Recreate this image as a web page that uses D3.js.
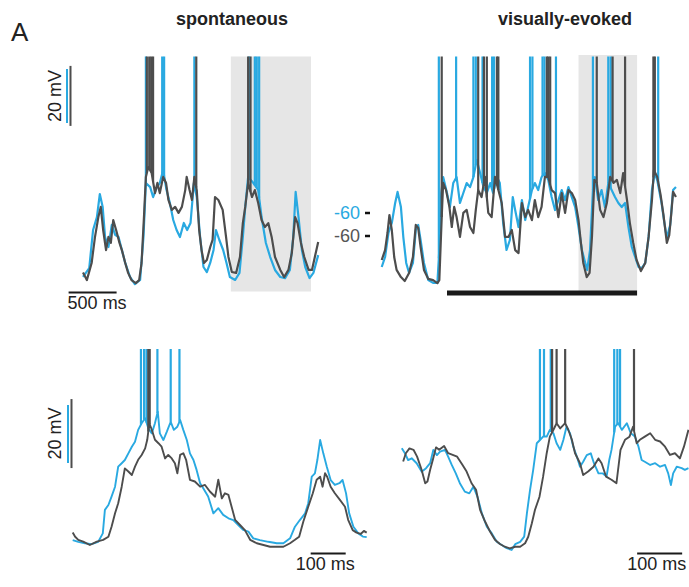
<!DOCTYPE html>
<html><head><meta charset="utf-8">
<script src="https://cdn.jsdelivr.net/npm/d3@7"></script>
<style>body{margin:0;background:#fff}svg{display:block;font-family:"Liberation Sans",Arial,Helvetica,sans-serif}</style>
</head><body><svg id="c" width="689" height="587"></svg>
<script>
// ---------- DATA (time in ms, membrane potential in mV) ----------
const panelTitles = ["spontaneous", "visually-evoked"];
const panelLetter = "A";

// Top-left: spontaneous, long trace
const tlGray = [[0,-72.2],[40,-74.7],[90,-69],[125,-60.3],[160,-53.7],[185,-50.3],[210,-58],[240,-64.7],[265,-60.3],[290,-62.3],[315,-54.7],[345,-58],[380,-62.3],[405,-64.7],[440,-69],[470,-72.3],[505,-74.7],[550,-75.7],[585,-74.7],[610,-69],[635,-53.7],[655,-40.3],[680,-37],[715,-39],[750,-45.7],[775,-42.3],[800,-45.7],[835,-40.3],[865,-42.3],[890,-48],[925,-51.3],[960,-50.3],[995,-52.3],[1030,-50.3],[1065,-44.7],[1080,-40.3],[1110,-44.7],[1135,-48],[1160,-40.3],[1185,-44.7],[1210,-58],[1235,-64.7],[1260,-69],[1290,-68],[1325,-63.7],[1350,-61.3],[1375,-47],[1410,-48],[1455,-51.3],[1490,-60.3],[1515,-67],[1550,-72],[1595,-72.3],[1635,-67],[1665,-55.7],[1690,-50.3],[1720,-42.3],[1760,-47],[1790,-44.7],[1825,-49],[1860,-54.7],[1895,-57],[1930,-55.7],[1965,-60.3],[2000,-67],[2055,-71.3],[2095,-73.7],[2140,-71.3],[2175,-65.7],[2210,-53.7],[2235,-55.7],[2270,-62.3],[2305,-67],[2350,-71.3],[2385,-71.3],[2415,-67],[2450,-62]];
const tlBlue = [[0,-83.7],[65,-80.4],[105,-66.3],[145,-61.5],[175,-53],[205,-57.8],[230,-68.9],[265,-72.6],[300,-64.4],[335,-68.1],[370,-68.9],[405,-73.7],[440,-78.5],[490,-83.7],[540,-86.3],[595,-84.8],[630,-68.9],[655,-48.9],[700,-50.4],[730,-54.1],[770,-50.4],[800,-48.9],[835,-44.1],[870,-51.5],[905,-56.3],[940,-62.6],[975,-66.3],[1010,-68.9],[1050,-63.7],[1085,-66.3],[1120,-63.7],[1155,-48.9],[1185,-54.1],[1220,-68.9],[1255,-80],[1290,-81.9],[1325,-78.5],[1360,-73.7],[1385,-66.3],[1420,-70],[1460,-73.7],[1495,-78.5],[1530,-83.7],[1585,-84.8],[1630,-82.2],[1665,-68.9],[1690,-57.8],[1720,-46.7],[1775,-48.9],[1825,-51.5],[1860,-61.5],[1905,-71.1],[1950,-76.3],[2000,-81.1],[2055,-83.7],[2105,-84.1],[2155,-81.1],[2190,-68.9],[2215,-52.2],[2245,-61.5],[2280,-73.7],[2315,-80],[2360,-84.1],[2400,-82.2],[2450,-75.6]];
const tlGraySpikes = [665, 690, 710, 730, 1180, 1720, 1745];
const tlBlueSpikes = [655, 825, 845, 1160, 1730, 1790, 1810, 1835];
const tlShade = [1540, 2375];
const tlTimeBar = [-150, 350];

// Top-right: visually evoked, long trace (t = 0 at stimulus onset)
const trGray = [[-680,-68],[-645,-64.7],[-620,-59],[-600,-53],[-575,-58],[-550,-67],[-525,-71.3],[-480,-73.7],[-440,-75],[-395,-72.3],[-355,-67],[-325,-56.3],[-300,-57.3],[-275,-63.7],[-240,-71.3],[-195,-74.3],[-145,-74.7],[-100,-75.7],[-80,-74.7],[-55,-53.7],[-40,-42.3],[-10,-44.7],[25,-50.3],[50,-57],[75,-50.3],[100,-53.7],[135,-60.3],[170,-52.3],[205,-51.3],[240,-57],[275,-59],[300,-51.3],[325,-44.7],[360,-47],[395,-40.3],[430,-52.3],[465,-53.7],[500,-40.3],[535,-44.7],[570,-49],[605,-60.3],[640,-60.3],[675,-58],[710,-64.7],[745,-65.7],[780,-49],[815,-53.7],[845,-51.3],[885,-54.7],[915,-48],[950,-53.7],[985,-50.3],[1020,-40.3],[1055,-40.3],[1090,-44.7],[1125,-45.7],[1160,-53.7],[1195,-45.7],[1230,-52.3],[1265,-44.7],[1300,-45.7],[1335,-48],[1370,-54.7],[1395,-62.3],[1420,-69],[1455,-73.7],[1485,-72.3],[1510,-60.3],[1535,-41.3],[1560,-42.3],[1595,-51.3],[1630,-53.7],[1665,-49],[1700,-40.3],[1735,-42.3],[1770,-41.3],[1805,-45.7],[1835,-39],[1875,-48],[1905,-55.7],[1940,-62.3],[1975,-68],[2020,-71.7],[2065,-69],[2100,-60.3],[2135,-48],[2155,-38],[2190,-40.3],[2225,-46.3],[2255,-53],[2290,-62.3],[2315,-59.7],[2335,-53],[2355,-45.3],[2385,-47]];
const trBlue = [[-680,-80],[-645,-76.3],[-610,-67.4],[-575,-63.7],[-540,-56.3],[-515,-52.2],[-480,-57.8],[-455,-68.9],[-425,-78.5],[-395,-82.2],[-355,-78.5],[-325,-66.3],[-300,-64.4],[-275,-70],[-240,-78.5],[-195,-84.8],[-145,-85.9],[-100,-85.9],[-80,-73.7],[-60,-52.6],[-40,-46.7],[0,-52.6],[30,-57.8],[65,-48.9],[100,-46.7],[135,-56.3],[170,-52.6],[205,-48.9],[240,-50.4],[275,-46.7],[310,-40.4],[345,-45.2],[380,-50.4],[415,-52.6],[450,-48.9],[480,-52.6],[520,-46.7],[550,-48.9],[585,-63.7],[620,-73.7],[655,-70],[685,-54.1],[710,-58.9],[745,-65.2],[780,-55.2],[815,-62.6],[845,-57.8],[885,-51.5],[915,-48.9],[950,-51.5],[985,-46.7],[1020,-45.2],[1055,-47.8],[1090,-54.1],[1125,-58.9],[1160,-55.2],[1195,-51.5],[1230,-55.2],[1265,-50.4],[1300,-54.1],[1335,-57.8],[1370,-65.2],[1405,-73.7],[1440,-78.5],[1460,-81.1],[1490,-73.7],[1520,-51.5],[1540,-46.7],[1575,-55.2],[1610,-51.5],[1645,-57.8],[1680,-48.9],[1715,-51.5],[1750,-54.1],[1785,-56.3],[1820,-57.8],[1855,-56.3],[1890,-65.2],[1925,-72.6],[1960,-76.3],[1995,-80],[2030,-80.4],[2065,-78.5],[2100,-68.9],[2135,-51.5],[2165,-45.2],[2190,-47.8],[2235,-56.3],[2260,-62.6],[2290,-69.3],[2325,-64.4],[2355,-51.5],[2385,-50.4]];
const trGraySpikes = [-55, 325, 385, 415, 520, 535, 1040, 1055, 1075, 1560, 1725, 1855, 2150, 2165];
const trBlueSpikes = [-85, 95, 275, 300, 370, 470, 490, 865, 890, 995, 1015, 1135, 1520, 1680, 1705, 2200];
const trShade = [1370, 1980];
const stimulus = [0, 1980];
const restLabel = -60;

// Bottom-left: expanded spontaneous segment
const blGray = [[2,-71.4],[9,-72.6],[18,-73.5],[32,-74],[51,-75],[71,-74],[89,-73.5],[104,-72.6],[113,-69.7],[123,-65.8],[132,-62.9],[142,-58.1],[151,-52.8],[161,-53.7],[171,-54.7],[180,-52.3],[189,-50.3],[199,-48.9],[209,-47],[215,-44.5],[221,-39.7],[228,-41.6],[237,-44.5],[247,-45.5],[256,-46.5],[266,-49.9],[275,-48.9],[285,-49.9],[294,-51.3],[301,-54.2],[309,-48.9],[318,-48.4],[326,-50.3],[337,-56.1],[351,-56.6],[366,-58.1],[380,-57.6],[394,-59.5],[409,-61],[418,-56.1],[428,-61.5],[437,-60],[447,-60.5],[456,-63.9],[466,-67.7],[480,-69.2],[494,-70.7],[509,-73.5],[528,-74.5],[547,-75],[566,-75.5],[585,-75.5],[604,-75.5],[623,-74.5],[637,-73.5],[649,-72.6],[661,-68.2],[675,-63.9],[688,-60],[699,-56.1],[709,-55.2],[716,-58.1],[723,-54.2],[729,-55.2],[739,-58.1],[751,-60],[766,-62],[780,-63.9],[789,-67.7],[802,-70.7],[813,-71.4],[825,-71.8],[834,-70.9],[842,-71.4]];
const blBlue = [[2,-83.3],[18,-83.9],[37,-84.4],[56,-84.7],[75,-83.9],[88,-81],[94,-72.9],[104,-71.2],[113,-68.3],[123,-64.9],[132,-58],[142,-56.8],[151,-55.7],[161,-53.4],[171,-51.1],[180,-49.4],[189,-45.3],[199,-43],[209,-41.3],[218,-44.7],[228,-46.5],[237,-43],[245,-39],[251,-46.5],[261,-48.8],[271,-45.9],[282,-42.5],[291,-45.3],[301,-44.2],[309,-41.9],[318,-45.3],[328,-48.8],[337,-53.4],[347,-55.7],[356,-59.1],[366,-63.7],[375,-65.4],[389,-68.3],[404,-74.1],[418,-72.3],[432,-74.6],[447,-75.8],[461,-76.4],[475,-78.1],[489,-79.8],[504,-80.4],[518,-82.7],[537,-83.3],[561,-83.9],[585,-84.4],[604,-84.4],[623,-82.7],[637,-78.7],[651,-76.4],[666,-74.1],[675,-70.6],[685,-61.4],[694,-60.3],[701,-55.7],[709,-48.8],[718,-53.4],[728,-58],[739,-62.6],[751,-64.3],[764,-63.7],[773,-62.6],[783,-67.2],[792,-74.1],[804,-78.7],[818,-81],[831,-82.1],[842,-82.3]];
const blGraySpikes = [218, 222];
const blBlueSpikes = [197, 206, 213, 244, 282, 307];
const blTimeBar = [682, 782];

// Bottom-right: expanded visually-evoked segment
const brGray = [[7,-50.8],[13,-48.4],[21,-47],[30,-47.4],[38,-49.4],[48,-53.2],[56,-57.1],[61,-56.6],[67,-53.2],[73,-50.3],[80,-46.7],[87,-47.4],[98,-46.3],[107,-48.4],[117,-48.9],[127,-49.4],[139,-51.8],[148,-53.7],[159,-57.1],[169,-59],[178,-64.8],[189,-68.2],[200,-71.1],[211,-73.5],[222,-74.7],[233,-75.5],[244,-76],[256,-75.5],[267,-75.5],[278,-74.5],[285,-72.6],[293,-68.7],[300,-64.8],[310,-61],[318,-55.2],[326,-48.4],[333,-43.6],[341,-41.6],[348,-39.7],[356,-41.2],[367,-39.7],[374,-41.6],[382,-44.5],[389,-48.4],[400,-51.3],[407,-54.7],[418,-53.7],[430,-52.3],[441,-49.9],[448,-51.3],[458,-55.2],[470,-56.1],[481,-57.1],[490,-47.4],[500,-44.5],[510,-43.6],[518,-40.7],[526,-45.5],[533,-44.5],[544,-43.6],[556,-42.6],[567,-44.5],[578,-45],[589,-46.5],[600,-48.9],[611,-48.4],[622,-49.9],[631,-46.5],[641,-41.6]];
const brBlue = [[4,-51.6],[11,-53.4],[18,-55.7],[26,-55.1],[37,-56.8],[48,-59.7],[58,-58.5],[67,-56.8],[74,-52.2],[82,-54],[89,-52.8],[100,-52.2],[107,-54.5],[115,-57.4],[124,-60.3],[133,-63.7],[144,-66.6],[154,-67.2],[163,-64.9],[172,-68.3],[182,-74.1],[193,-78.7],[204,-81],[215,-83.9],[226,-85],[237,-86.1],[248,-86.7],[256,-84.7],[267,-83.9],[276,-82.1],[282,-74.1],[289,-66],[296,-59.1],[304,-49.9],[311,-48.8],[318,-47.6],[326,-47.6],[333,-45.3],[341,-46.5],[348,-49.9],[356,-52.2],[363,-48.8],[370,-44.2],[378,-46.5],[385,-51.1],[393,-54.5],[400,-58],[407,-56.3],[415,-54],[424,-53.4],[431,-56.8],[441,-60.3],[450,-60.3],[459,-61.4],[465,-55.7],[470,-52.2],[478,-44.2],[485,-43],[493,-45.3],[504,-43],[513,-46.5],[522,-47.6],[530,-51.1],[537,-55.7],[544,-56.3],[556,-57.4],[567,-56.8],[578,-58],[589,-57.4],[596,-60.3],[602,-64.3],[607,-60.3],[615,-58],[626,-58.5],[633,-59.1],[641,-58.5]];
const brGraySpikes = [338, 348, 367, 520];
const brBlueSpikes = [311, 320, 335, 476, 483, 489];
const brTimeBar = [527, 627];

// scale-bar values (mV) and labels
const spikePeak = 20;
const topGrayVBar = [-23.3, -3.3], topBlueVBar = [-26.7, -6.7];
const botGrayVBar = [-52.7, -32.7], botBlueVBar = [-56.7, -36.7];
const vBarLabel = "20 mV";
const longBarLabel = "500 ms", shortBarLabel = "100 ms";

// ---------- STYLE ----------
const BLUE = "#29a9e1", GRAY = "#4d4d4d", SHADE = "#e6e6e6", INK = "#1a1a1a";

const svg = d3.select("#c");
const defs = svg.append("defs");
function clip(id, x, y, w, h){ defs.append("clipPath").attr("id", id).append("rect").attr("x",x).attr("y",y).attr("width",w).attr("height",h); }
clip("cTop", 0, 56.5, 689, 250);
clip("cBot", 0, 349, 689, 230);

// scales
const xTL = d3.scaleLinear().domain([0, 1000]).range([83, 179]);
const xTR = d3.scaleLinear().domain([0, 1000]).range([447, 543]);
const xBL = d3.scaleLinear().domain([0, 100]).range([72, 107]);
const xBR = d3.scaleLinear().domain([0, 100]).range([400, 445]);
const yTopG = d3.scaleLinear().domain([-60, -40]).range([236, 176]);
const yTopB = d3.scaleLinear().domain([-60, -40]).range([213, 159]);
const yBotG = d3.scaleLinear().domain([-75, -55]).range([545, 476]);
const yBotB = d3.scaleLinear().domain([-85, -65]).range([545, 487]);

const bis = d3.bisector(d => d[0]).left;
function valAt(data, t){
  const i = Math.max(1, Math.min(data.length - 1, bis(data, t)));
  const a = data[i-1], b = data[i];
  return a[1] + (b[1]-a[1]) * (t - a[0]) / (b[0]-a[0]);
}

function drawTrace(g, data, spikes, x, y, color, w){
  g.append("path").datum(data).attr("fill","none").attr("stroke",color)
    .attr("stroke-width", w).attr("stroke-linejoin","round")
    .attr("d", d3.line().x(d=>x(d[0])).y(d=>y(d[1])));
  g.selectAll(null).data(spikes).enter().append("line")
    .attr("x1", t=>x(t)).attr("x2", t=>x(t))
    .attr("y1", t=>y(valAt(data,t))).attr("y2", y(spikePeak))
    .attr("stroke", color).attr("stroke-width", 2.2);
}

// shading
svg.append("rect").attr("x", xTL(tlShade[0])).attr("width", xTL(tlShade[1])-xTL(tlShade[0]))
  .attr("y", 56.5).attr("height", 235).attr("fill", SHADE);
svg.append("rect").attr("x", xTR(trShade[0])).attr("width", xTR(trShade[1])-xTR(trShade[0]))
  .attr("y", 55).attr("height", 236).attr("fill", SHADE);

// traces
const gTop = svg.append("g").attr("clip-path","url(#cTop)");
drawTrace(gTop, tlBlue, tlBlueSpikes, xTL, yTopB, BLUE, 2.2);
drawTrace(gTop, tlGray, tlGraySpikes, xTL, yTopG, GRAY, 2.2);
drawTrace(gTop, trBlue, trBlueSpikes, xTR, yTopB, BLUE, 2.2);
drawTrace(gTop, trGray, trGraySpikes, xTR, yTopG, GRAY, 2.2);
const gBot = svg.append("g").attr("clip-path","url(#cBot)");
drawTrace(gBot, blBlue, blBlueSpikes, xBL, yBotB, BLUE, 1.9);
drawTrace(gBot, blGray, blGraySpikes, xBL, yBotG, GRAY, 1.9);
drawTrace(gBot, brBlue, brBlueSpikes, xBR, yBotB, BLUE, 1.9);
drawTrace(gBot, brGray, brGraySpikes, xBR, yBotG, GRAY, 1.9);

// stimulus bar
svg.append("line").attr("x1", xTR(stimulus[0])).attr("x2", xTR(stimulus[1]))
  .attr("y1", 293).attr("y2", 293).attr("stroke", INK).attr("stroke-width", 5);

// time scale bars
function hbar(x, range, yy, label, tx, anchor){
  svg.append("line").attr("x1", x(range[0])).attr("x2", x(range[1])).attr("y1", yy).attr("y2", yy)
    .attr("stroke", INK).attr("stroke-width", 2);
  svg.append("text").attr("x", tx).attr("y", yy + 16).attr("text-anchor", anchor)
    .attr("font-size", 18).attr("fill", "#222").text(label);
}
hbar(xTL, tlTimeBar, 292.5, longBarLabel, xTL(tlTimeBar[0]) - 1, "start");
hbar(xBL, blTimeBar, 553.5, shortBarLabel, (xBL(blTimeBar[0])+xBL(blTimeBar[1]))/2 - 3, "middle");
hbar(xBR, brTimeBar, 553.5, shortBarLabel, (xBR(brTimeBar[0])+xBR(brTimeBar[1]))/2 - 3, "middle");

// voltage scale bars
function vbar(xx, y, range, color){
  svg.append("line").attr("x1", xx).attr("x2", xx).attr("y1", y(range[0])).attr("y2", y(range[1]))
    .attr("stroke", color).attr("stroke-width", 2);
}
vbar(67, yTopB, topBlueVBar, BLUE); vbar(70.5, yTopG, topGrayVBar, GRAY);
vbar(68, yBotB, botBlueVBar, BLUE); vbar(71.5, yBotG, botGrayVBar, GRAY);
function vlabel(cy){
  svg.append("text").attr("transform", `translate(61,${cy}) rotate(-90)`).attr("text-anchor","middle")
    .attr("font-size", 18).attr("fill", "#222").text(vBarLabel);
}
vlabel((yTopG(topGrayVBar[0]) + yTopG(topGrayVBar[1]))/2);
vlabel((yBotG(botGrayVBar[0]) + yBotG(botGrayVBar[1]))/2);

// -60 labels
[[yTopB, BLUE], [yTopG, "#555"]].forEach(([y, c]) => {
  svg.append("text").attr("x", 360).attr("y", y(restLabel)).attr("dy", "0.35em").attr("text-anchor","end")
    .attr("font-size", 18).attr("fill", c).text(restLabel);
  svg.append("line").attr("x1", 365).attr("x2", 370).attr("y1", y(restLabel)).attr("y2", y(restLabel))
    .attr("stroke", "#111").attr("stroke-width", 2.5);
});

// titles
svg.append("text").attr("x", 232).attr("y", 25).attr("text-anchor","middle").attr("font-size", 18)
  .attr("font-weight","bold").attr("fill","#222").text(panelTitles[0]);
svg.append("text").attr("x", 565).attr("y", 25).attr("text-anchor","middle").attr("font-size", 18)
  .attr("font-weight","bold").attr("fill","#222").text(panelTitles[1]);
svg.append("text").attr("x", 11).attr("y", 41).attr("font-size", 26).attr("fill","#222").text(panelLetter);
</script>
</body></html>
